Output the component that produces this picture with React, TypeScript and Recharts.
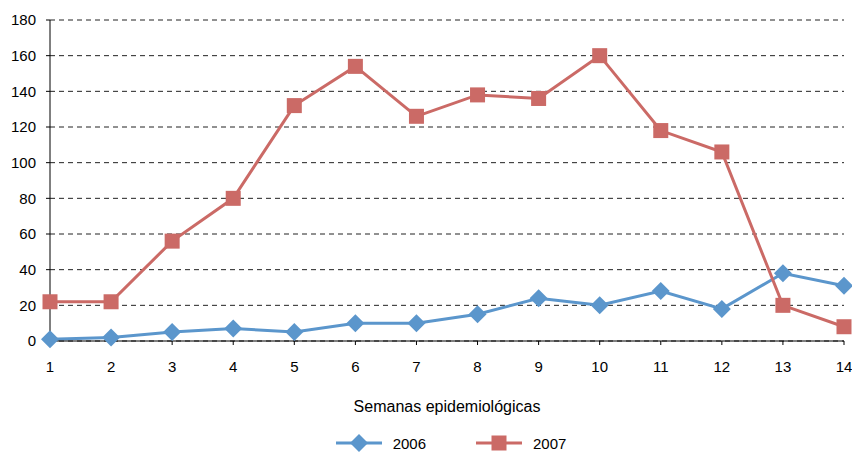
import React from 'react';
import { LineChart, Line, XAxis, YAxis, CartesianGrid } from 'recharts';

const weeks = ['1', '2', '3', '4', '5', '6', '7', '8', '9', '10', '11', '12', '13', '14'];
const cases2006 = [1, 2, 5, 7, 5, 10, 10, 15, 24, 20, 28, 18, 38, 31];
const cases2007 = [22, 22, 56, 80, 132, 154, 126, 138, 136, 160, 118, 106, 20, 8];
const yTicks = [0, 20, 40, 60, 80, 100, 120, 140, 160, 180];

const BLUE = '#5B96CC';
const RED = '#CB6A66';
const FONT = '"Liberation Sans", Arial, sans-serif';

const data = weeks.map((w, i) => ({ week: w, y2006: cases2006[i], y2007: cases2007[i] }));

const Diamond = (props: any) => {
  const { cx, cy, index } = props;
  if (cx == null || cy == null) return <g key={`d-${index}`} />;
  const r = 9;
  return (
    <path
      key={`d-${index}`}
      d={`M${cx},${cy - r}L${cx + r},${cy}L${cx},${cy + r}L${cx - r},${cy}Z`}
      fill={BLUE}
      stroke="none"
    />
  );
};

const Square = (props: any) => {
  const { cx, cy, index } = props;
  if (cx == null || cy == null) return <g key={`s-${index}`} />;
  const h = 7.5;
  return <rect key={`s-${index}`} x={cx - h} y={cy - h} width={2 * h} height={2 * h} fill={RED} stroke="none" />;
};

const LegendBox = () => (
  <div
    style={{
      position: 'absolute',
      left: 0,
      top: 434,
      width: 852,
      height: 18,
      boxSizing: 'border-box',
      paddingLeft: 50,
      display: 'flex',
      justifyContent: 'center',
      alignItems: 'center',
      fontFamily: FONT,
      fontSize: 15,
      color: '#000',
    }}
  >
    <svg width={46} height={18} style={{ marginRight: 11 }}>
      <line x1={0} y1={9} x2={46} y2={9} stroke={BLUE} strokeWidth={3} />
      <path d="M23,0L32,9L23,18L14,9Z" fill={BLUE} />
    </svg>
    <span style={{ marginRight: 50 }}>2006</span>
    <svg width={46} height={18} style={{ marginRight: 11 }}>
      <line x1={0} y1={9} x2={46} y2={9} stroke={RED} strokeWidth={3} />
      <rect x={15.5} y={1.5} width={15} height={15} fill={RED} />
    </svg>
    <span>2007</span>
  </div>
);

export default function App() {
  return (
    <div style={{ position: 'absolute', left: 0, top: 0, width: 852, height: 452, background: '#fff' }}>
      <LineChart width={852} height={452} data={data} margin={{ top: 20, right: 8, bottom: 37, left: 10 }}>
        <CartesianGrid vertical={false} stroke="#222" strokeDasharray="5 4" />
        <XAxis
          dataKey="week"
          axisLine={{ stroke: '#000' }}
          tickLine={{ stroke: '#000' }}
          tickSize={4}
          tickMargin={16}
          tick={{ fill: '#000', fontSize: 15, fontFamily: FONT }}
          height={74}
          label={{ value: 'Semanas epidemiológicas', position: 'insideBottom', offset: 3, fill: '#000', fontSize: 16, fontFamily: FONT }}
        />
        <YAxis
          domain={[0, 180]}
          ticks={yTicks}
          width={40}
          axisLine={{ stroke: '#000' }}
          tickLine={{ stroke: '#000' }}
          tickSize={4}
          tickMargin={10}
          tick={{ fill: '#000', fontSize: 15, fontFamily: FONT }}
        />
        <Line dataKey="y2006" stroke={BLUE} strokeWidth={3} dot={Diamond} activeDot={false} isAnimationActive={false} />
        <Line dataKey="y2007" stroke={RED} strokeWidth={3} dot={Square} activeDot={false} isAnimationActive={false} />
      </LineChart>
      <LegendBox />
    </div>
  );
}
